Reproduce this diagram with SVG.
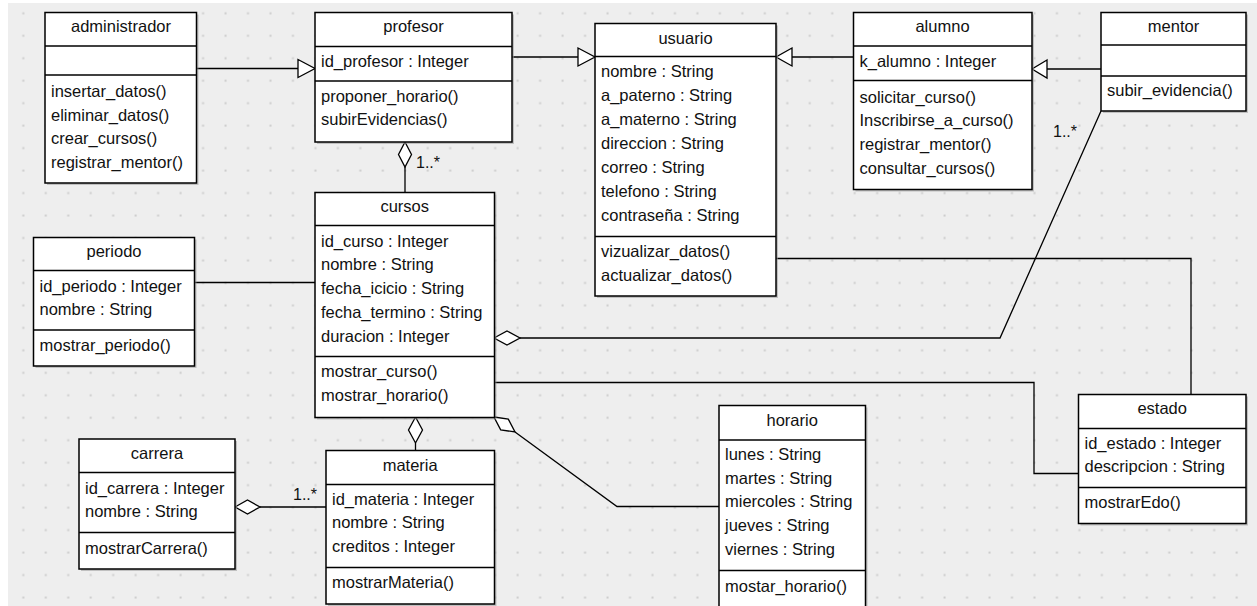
<svg xmlns="http://www.w3.org/2000/svg" width="1257" height="606" viewBox="0 0 1257 606">
<defs>
<pattern id="grid" patternUnits="userSpaceOnUse" x="12" y="2" width="22.47" height="22.47">
<rect x="10.3" y="10.3" width="2" height="2" fill="#cccccc"/>
</pattern>
<style>
.box{fill:#ffffff;stroke:#000000;stroke-width:1.5}
.sh{fill:#9a9a9a;opacity:0.55}
.div{stroke:#000000;stroke-width:1.3}
text{font-family:"Liberation Sans",Arial,sans-serif;font-size:16.5px;fill:#111111}
.t{text-anchor:middle}
.ln{fill:none;stroke:#000000;stroke-width:1.3}
.hd{fill:#ffffff;stroke:#000000;stroke-width:1.3}
.lbl{font-size:16px}
</style>
</defs>
<rect x="0" y="0" width="1257" height="606" fill="#ffffff"/>
<rect x="8" y="3" width="1249" height="603" fill="#eeeeee"/>
<rect x="8" y="3" width="1249" height="603" fill="url(#grid)"/>

<g id="connectors">
<line class="ln" x1="196" y1="68.5" x2="298" y2="68.5"/>
<polygon class="hd" points="298,59.5 315,68.5 298,77.5"/>
<line class="ln" x1="512" y1="57" x2="578" y2="57"/>
<polygon class="hd" points="578,48 595,57 578,66"/>
<line class="ln" x1="853" y1="57" x2="792" y2="57"/>
<polygon class="hd" points="792,48 776,57 792,66"/>
<line class="ln" x1="1101" y1="69" x2="1047" y2="69"/>
<polygon class="hd" points="1047,60 1032,69 1047,78"/>
<line class="ln" x1="405" y1="167" x2="405" y2="192"/>
<polygon class="hd" points="405,142 411.5,154.5 405,167 398.5,154.5"/>
<text class="lbl" x="416" y="168">1..*</text>
<line class="ln" x1="194" y1="282.5" x2="315" y2="282.5"/>
<polyline class="ln" points="520,338 1000,338 1101,111"/>
<polygon class="hd" points="494,338 507,331 520,338 507,345"/>
<text class="lbl" x="1053" y="137">1..*</text>
<polyline class="ln" points="776,258.5 1191,258.5 1191,394"/>
<polyline class="ln" points="494,382.5 1034,382.5 1034,473.5 1078,473.5"/>
<line class="ln" x1="415.5" y1="443" x2="415.5" y2="451"/>
<polygon class="hd" points="415.5,417 422.5,430 415.5,443 408.5,430"/>
<polyline class="ln" points="515,432 617,506.5 719,506.5"/>
<polygon class="hd" points="494,417 508.3,419.2 515,432 500.7,429.8"/>
<line class="ln" x1="260" y1="507" x2="326" y2="507"/>
<polygon class="hd" points="235,507 247.5,500 260,507 247.5,514"/>
<text class="lbl" x="293" y="500">1..*</text>
</g>

<g id="administrador">
<rect class="sh" x="47" y="14.5" width="151.5" height="170.5"/>
<rect class="box" x="45" y="12.5" width="151.5" height="170.5"/>
<line class="div" x1="45" y1="46" x2="196.5" y2="46"/>
<line class="div" x1="45" y1="75" x2="196.5" y2="75"/>
<text class="t" x="121" y="32">administrador</text>
<text x="51" y="97">insertar_datos()</text>
<text x="51" y="120.5">eliminar_datos()</text>
<text x="51" y="144">crear_cursos()</text>
<text x="51" y="167.5">registrar_mentor()</text>
</g>

<g id="profesor">
<rect class="sh" x="317" y="14.5" width="197" height="129.5"/>
<rect class="box" x="315" y="12.5" width="197" height="129.5"/>
<line class="div" x1="315" y1="46.5" x2="512" y2="46.5"/>
<line class="div" x1="315" y1="81" x2="512" y2="81"/>
<text class="t" x="413.5" y="32">profesor</text>
<text x="321" y="67">id_profesor : Integer</text>
<text x="321" y="101.5">proponer_horario()</text>
<text x="321" y="125">subirEvidencias()</text>
</g>

<g id="usuario">
<rect class="sh" x="597" y="25.5" width="181" height="272.5"/>
<rect class="box" x="595" y="23.5" width="181" height="272.5"/>
<line class="div" x1="595" y1="56.5" x2="776" y2="56.5"/>
<line class="div" x1="595" y1="236.5" x2="776" y2="236.5"/>
<text class="t" x="685.5" y="43.5">usuario</text>
<text x="601" y="77.3">nombre : String</text>
<text x="601" y="101.2">a_paterno : String</text>
<text x="601" y="125.1">a_materno : String</text>
<text x="601" y="149">direccion : String</text>
<text x="601" y="172.9">correo : String</text>
<text x="601" y="196.8">telefono : String</text>
<text x="601" y="220.7">contraseña : String</text>
<text x="601" y="256.7">vizualizar_datos()</text>
<text x="601" y="280.6">actualizar_datos()</text>
</g>

<g id="alumno">
<rect class="sh" x="855.5" y="14.5" width="178.5" height="177"/>
<rect class="box" x="853.5" y="12.5" width="178.5" height="177"/>
<line class="div" x1="853.5" y1="46" x2="1032" y2="46"/>
<line class="div" x1="853.5" y1="80.5" x2="1032" y2="80.5"/>
<text class="t" x="942.5" y="32">alumno</text>
<text x="859.5" y="67">k_alumno : Integer</text>
<text x="859.5" y="102.5">solicitar_curso()</text>
<text x="859.5" y="126">Inscribirse_a_curso()</text>
<text x="859.5" y="149.5">registrar_mentor()</text>
<text x="859.5" y="173.5">consultar_cursos()</text>
</g>

<g id="mentor">
<rect class="sh" x="1103" y="14.5" width="145" height="98.5"/>
<rect class="box" x="1101" y="12.5" width="145" height="98.5"/>
<line class="div" x1="1101" y1="45" x2="1246" y2="45"/>
<line class="div" x1="1101" y1="76" x2="1246" y2="76"/>
<text class="t" x="1173.5" y="32">mentor</text>
<text x="1107" y="95.5">subir_evidencia()</text>
</g>

<g id="periodo">
<rect class="sh" x="35.5" y="239.5" width="161" height="128.5"/>
<rect class="box" x="33.5" y="237.5" width="161" height="128.5"/>
<line class="div" x1="33.5" y1="270.5" x2="194.5" y2="270.5"/>
<line class="div" x1="33.5" y1="330" x2="194.5" y2="330"/>
<text class="t" x="114" y="257.3">periodo</text>
<text x="39.5" y="291.5">id_periodo : Integer</text>
<text x="39.5" y="315">nombre : String</text>
<text x="39.5" y="350.5">mostrar_periodo()</text>
</g>

<g id="cursos">
<rect class="sh" x="317" y="194.5" width="179.5" height="225"/>
<rect class="box" x="315" y="192.5" width="179.5" height="225"/>
<line class="div" x1="315" y1="225.5" x2="494.5" y2="225.5"/>
<line class="div" x1="315" y1="356.5" x2="494.5" y2="356.5"/>
<text class="t" x="404.7" y="212.3">cursos</text>
<text x="321" y="246.7">id_curso : Integer</text>
<text x="321" y="270.4">nombre : String</text>
<text x="321" y="294.2">fecha_icicio : String</text>
<text x="321" y="318">fecha_termino : String</text>
<text x="321" y="341.7">duracion : Integer</text>
<text x="321" y="377">mostrar_curso()</text>
<text x="321" y="400.5">mostrar_horario()</text>
</g>

<g id="materia">
<rect class="sh" x="328" y="452.5" width="168.5" height="153.5"/>
<rect class="box" x="326" y="450.5" width="168.5" height="153.5"/>
<line class="div" x1="326" y1="484.5" x2="494.5" y2="484.5"/>
<line class="div" x1="326" y1="567.5" x2="494.5" y2="567.5"/>
<text class="t" x="410.2" y="470.7">materia</text>
<text x="332" y="504.5">id_materia : Integer</text>
<text x="332" y="528">nombre : String</text>
<text x="332" y="552">creditos : Integer</text>
<text x="332" y="588">mostrarMateria()</text>
</g>

<g id="horario">
<rect class="sh" x="721" y="407.5" width="146.5" height="220"/>
<rect class="box" x="719" y="405.5" width="146.5" height="220"/>
<line class="div" x1="719" y1="440" x2="865.5" y2="440"/>
<line class="div" x1="719" y1="570.5" x2="865.5" y2="570.5"/>
<text class="t" x="792.2" y="425.7">horario</text>
<text x="725" y="459.5">lunes : String</text>
<text x="725" y="483.5">martes : String</text>
<text x="725" y="507">miercoles : String</text>
<text x="725" y="531">jueves : String</text>
<text x="725" y="555">viernes : String</text>
<text x="725" y="591.5">mostar_horario()</text>
</g>

<g id="carrera">
<rect class="sh" x="81" y="441" width="156" height="130"/>
<rect class="box" x="79" y="439" width="156" height="130"/>
<line class="div" x1="79" y1="472.5" x2="235" y2="472.5"/>
<line class="div" x1="79" y1="532.5" x2="235" y2="532.5"/>
<text class="t" x="157" y="459">carrera</text>
<text x="85" y="493.5">id_carrera : Integer</text>
<text x="85" y="517">nombre : String</text>
<text x="85" y="553.5">mostrarCarrera()</text>
</g>

<g id="estado">
<rect class="sh" x="1080.5" y="396.5" width="167.5" height="129"/>
<rect class="box" x="1078.5" y="394.5" width="167.5" height="129"/>
<line class="div" x1="1078.5" y1="428.5" x2="1246" y2="428.5"/>
<line class="div" x1="1078.5" y1="487.5" x2="1246" y2="487.5"/>
<text class="t" x="1162.2" y="414.3">estado</text>
<text x="1084.5" y="448.5">id_estado : Integer</text>
<text x="1084.5" y="472">descripcion : String</text>
<text x="1084.5" y="508">mostrarEdo()</text>
</g>
</svg>
